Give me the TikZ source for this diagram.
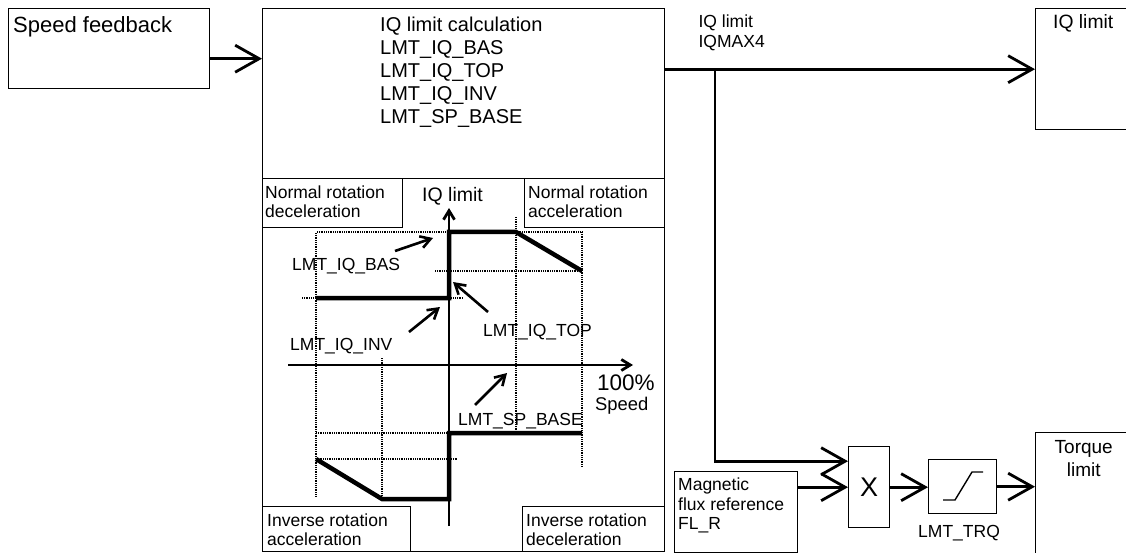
\documentclass[tikz,border=0pt]{standalone}
\usepackage{fontspec}
\setmainfont{Liberation Sans}
\usetikzlibrary{arrows.meta,positioning}

\begin{document}
\begin{tikzpicture}[x=1pt, y=-1pt,
  blk/.style={draw, line width=1.4pt, inner sep=0pt, anchor=north west},
  subblk/.style={draw, line width=1pt, inner sep=0pt, anchor=north west},
  lbl/.style={inner sep=0pt, align=left, font=\fontsize{17.5}{19.5}\selectfont},
  sig/.style={line width=2.8pt, -{Straight Barb[length=24pt,width=27pt]}},
  ax/.style={line width=2.8pt, -{Straight Barb[length=9pt,width=11pt]}},
  ptr/.style={line width=2.6pt, -{Straight Barb[length=10pt,width=12pt]}},
  curve/.style={line width=4.5pt},
  guide/.style={line width=1.2pt, dash pattern=on 1pt off 0.8pt}]
  \useasboundingbox (0,0) rectangle (1126,553);

  % blocks
  \node[blk, minimum width=201pt, minimum height=80pt] (speed) at (8,8) {};
  \node[blk, minimum width=402pt, minimum height=170pt] (calc) at (262,8) {};
  \node[blk, minimum width=402pt, minimum height=373pt] (graph) at (262,178) {};
  \node[blk, minimum width=100pt, minimum height=121pt] (iqbox) at (1035,8) {};
  \node[blk, minimum width=123pt, minimum height=81pt] (flux) at (674,471) {};
  \node[blk, minimum width=41pt, minimum height=81pt] (mult) at (848,446) {};
  \node[blk, minimum width=68pt, minimum height=54pt] (lim) at (928,459) {};
  \node[blk, minimum width=100pt, minimum height=125pt] (torque) at (1035,432) {};

  % quadrant boxes
  \node[subblk, minimum width=140pt, minimum height=49pt] (ndec) at (262,178) {};
  \node[subblk, minimum width=140pt, minimum height=49pt] (nacc) at (524,178) {};
  \node[subblk, minimum width=148pt, minimum height=45pt] (iacc) at (262,506) {};
  \node[subblk, minimum width=142pt, minimum height=45pt] (idec) at (522,506) {};

  % texts
  \node[lbl, anchor=base west, font=\fontsize{22}{24}\selectfont] (speedtxt) at (13,33) {Speed feedback};
  \node[lbl, below right=8.7pt and 118pt of calc.north west, font=\fontsize{20}{23}\selectfont] (calctxt)
    {IQ limit calculation\\LMT\_IQ\_BAS\\LMT\_IQ\_TOP\\LMT\_IQ\_INV\\LMT\_SP\_BASE};
  \node[lbl, below right=7.5pt and 3pt of ndec.north west] (ndectxt) {Normal rotation\\deceleration};
  \node[lbl, below right=7.5pt and 4pt of nacc.north west] (nacctxt) {Normal rotation\\acceleration};
  \node[lbl, below right=7.5pt and 5pt of iacc.north west] (iacctxt) {Inverse rotation\\acceleration};
  \node[lbl, below right=7.5pt and 4pt of idec.north west] (idectxt) {Inverse rotation\\deceleration};
  \node[lbl, anchor=base west, font=\fontsize{19.5}{22}\selectfont] (iqaxis) at (422,202) {IQ limit};
  \node[lbl, anchor=base west] (bas) at (292,270) {LMT\_IQ\_BAS};
  \node[lbl, anchor=base west] (top) at (483,336) {LMT\_IQ\_TOP};
  \node[lbl, anchor=base west] (inv) at (290,350) {LMT\_IQ\_INV};
  \node[lbl, anchor=base west] (spb) at (458,425) {LMT\_SP\_BASE};
  \node[lbl, anchor=base west, font=\fontsize{22.5}{24}\selectfont] (pct) at (597,390) {100\%};
  \node[lbl, anchor=base west, font=\fontsize{18.4}{20}\selectfont] (spd) at (595,410) {Speed};
  \node[lbl, below right=7pt and 33pt of calc.north east] (iqout) {IQ limit\\IQMAX4};
  \node[lbl, below right=6pt and 18pt of iqbox.north west, font=\fontsize{19.3}{22}\selectfont] (iqboxtxt) {IQ limit};
  \node[lbl, below right=7pt and 4pt of flux.north west] (fluxtxt) {Magnetic\\flux reference\\FL\_R};
  \node[font=\fontsize{27}{30}\selectfont, inner sep=0pt] (x) at (mult.center) {X};
  \node[lbl, anchor=base west] (trq) at (918,537) {LMT\_TRQ};
  \node[lbl, align=center, below=8pt of torque.north, xshift=-2pt, font=\fontsize{19}{23}\selectfont] (torquetxt) {Torque\\limit};

  % signal lines
  \draw[sig] ([yshift=-10pt]speed.east) -- ([yshift=-10pt]speed.east -| calc.west);
  \draw[sig] (iqbox.west -| calc.east) -- (iqbox.west);
  \coordinate (br) at (715,68.5);
  \draw[sig] (br) |- ([yshift=26pt]mult.west);
  \draw[sig] (mult.west -| flux.east) -- (mult.west);
  \draw[sig] (mult.east) -- (mult.east -| lim.west);
  \draw[sig] (lim.east) -- (lim.east -| torque.west);
  \draw[line width=1.4pt] (943,500) -- (955,500) -- (972,472) -- (983,472);

  % guide lines
  \draw[guide] (316,233) -- (316,497);
  \draw[guide] (382,358) -- (382,497);
  \draw[guide] (516,217) -- (516,432);
  \draw[guide] (582,232) -- (582,467);
  \draw[guide] (317,232) -- (582,232);
  \draw[guide] (435,271) -- (582,271);
  \draw[guide] (302,298) -- (463,298);
  \draw[guide] (316,433) -- (449,433);
  \draw[guide] (316,459) -- (457,459);

  % axes
  \draw[ax] (288,365) -- (633,365);
  \draw[ax] (449,526) -- (449,208);

  % limit curve
  \draw[curve] (316,298) -- (449,298) -- (449,232) -- (516,232) -- (582,271);
  \draw[curve] (316,459) -- (382,499) -- (449,499) -- (449,433) -- (582,433);

  % pointers
  \draw[ptr] (395,251) -- (433,238);
  \draw[ptr] (488,312) -- (453,282);
  \draw[ptr] (409,332) -- (440,307);
  \draw[ptr] (475,405) -- (507,373);
\end{tikzpicture}
\end{document}
